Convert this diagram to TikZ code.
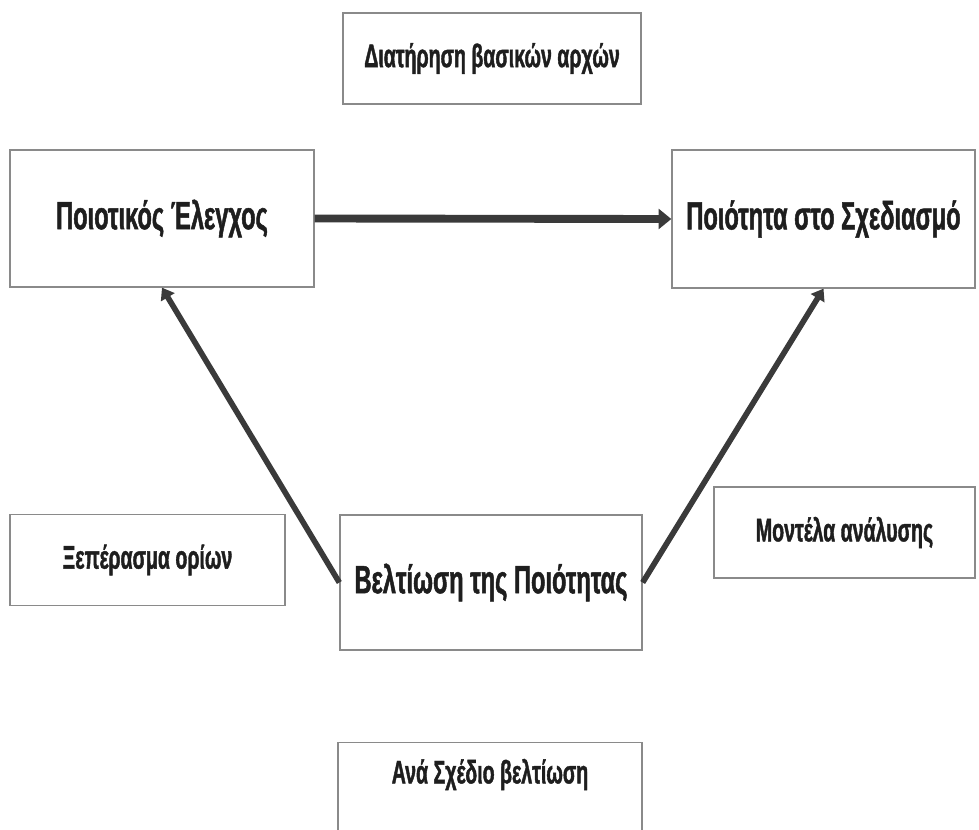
\documentclass[tikz,border=0pt]{standalone}
\usepackage{fontspec}
\newfontfamily\diagfont[FakeStretch=0.6, BoldFeatures={FakeBold=1.2}]{Liberation Sans}
\usetikzlibrary{arrows.meta}
\definecolor{QMarrow}{HTML}{3A3A3A}
\definecolor{QMframe}{HTML}{8A8A8A}
\definecolor{QMtext}{HTML}{1E1E1E}

\tikzset{
  bigbox/.style={draw=QMframe, line width=0.9pt, text=QMtext, minimum width=7.6cm, minimum height=3.4cm,
    font=\diagfont\bfseries\fontsize{28}{30}\selectfont},
  smallbox/.style={draw=QMframe, line width=0.9pt, text=QMtext, minimum height=2.275cm,
    font=\diagfont\bfseries\fontsize{23.2}{25}\selectfont},
  flow/.style={QMarrow, line width=4pt, -{Triangle[length=8pt, width=11pt]}},
}

\begin{document}
\begin{tikzpicture}[x=0.025cm, y=-0.025cm]
\useasboundingbox (0,0) rectangle (979,829);

% main boxes
\node[bigbox, minimum width=7.6cm, minimum height=3.425cm] (control) at (162,218.5) {Ποιοτικός Έλεγχος};
\node[bigbox, minimum width=7.575cm, minimum height=3.45cm] (design) at (823.5,219) {Ποιότητα στο Σχεδιασμό};
\node[bigbox, minimum width=7.55cm, minimum height=3.375cm] (improve) at (491,582.5) {Βελτίωση της Ποιότητας};

% side boxes
\node[smallbox, minimum width=7.45cm] (basics) at (492,58.5) {Διατήρηση βασικών αρχών};
\node[smallbox, minimum width=6.875cm] (limits) at (147.5,560) {Ξεπέρασμα ορίων};
\node[smallbox, minimum width=6.525cm] (models) at (844.5,532.5) {Μοντέλα ανάλυσης};
\node[smallbox, minimum width=7.6cm, minimum height=0pt, inner ysep=0pt, text height=29pt, text depth=60pt, anchor=north] (perplan) at (490,742) {Ανά Σχέδιο βελτίωση};

% arrows
\draw[flow, line width=5.6pt, -{Triangle[length=9pt, width=14pt]}] (control.east) -- (design.west);
\draw[flow] (improve.west) -- (control.south);
\draw[flow] (improve.east) -- (design.south);

\end{tikzpicture}
\end{document}
